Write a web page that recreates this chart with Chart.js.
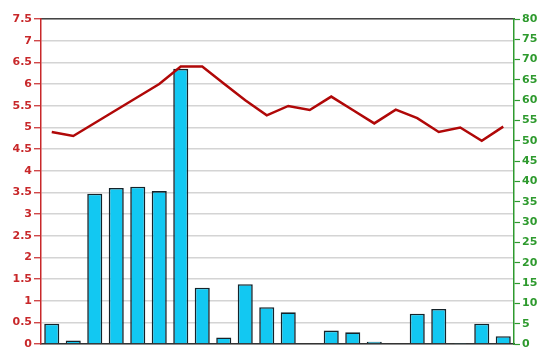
<!DOCTYPE html>
<html>
<head>
<meta charset="utf-8">
<script src="https://cdn.jsdelivr.net/npm/chart.js@4"></script>
<style>
html,body{margin:0;padding:0;background:#fff;}
#wrap{width:550px;height:364px;}
</style>
</head>
<body>
<div id="wrap"><canvas id="c" width="550" height="364"></canvas></div>
<script>
const categories = ['1','2','3','4','5','6','7','8','9','10','11','12','13','14','15','16','17','18','19','20','21','22'];
const barValues = [0.47,0.08,3.47,3.6,3.63,3.53,6.35,1.3,0.15,1.38,0.85,0.73,0.02,0.31,0.27,0.05,0,0.7,0.81,0.01,0.47,0.18];
const lineValues = [52.2,51.2,54.4,57.6,60.8,64.0,68.3,68.3,64.1,60.0,56.3,58.6,57.6,60.9,57.6,54.3,57.7,55.6,52.2,53.3,50.0,53.5];
const leftTicks = {min:0, max:7.5, step:0.5};
const rightTicks = {min:0, max:80, step:5};

const tickFont = {family:'DejaVu Sans', size:11, weight:'bold'};
const fmt = v => String(Math.round(v*10)/10);
new Chart(document.getElementById('c'), {
  data: {
    labels: categories,
    datasets: [
      {type:'line', data: lineValues, yAxisID:'y1', borderColor:'#b00808', borderWidth:2.5, pointRadius:0, tension:0, fill:false, order:0},
      {type:'bar', data: barValues, yAxisID:'y', backgroundColor:'#12c8f2', borderColor:'#15232a', borderWidth:1.6, categoryPercentage:1, barPercentage:0.7, order:1}
    ]
  },
  options: {
    responsive:false, animation:false,
    layout:{padding:{top:19,bottom:0,left:0,right:0}},
    plugins:{legend:{display:false}, tooltip:{enabled:false}},
    scales:{
      x:{type:'category', position:'bottom', grid:{display:false}, ticks:{display:false},
         border:{display:true,color:'#333',width:1.5},
         afterFit(s){s.height=20;}},
      x2:{type:'category', position:'top', labels:categories, grid:{display:false}, ticks:{display:false},
         border:{display:true,color:'#444',width:1.5},
         afterFit(s){s.height=0;}},
      y:{position:'left', min:leftTicks.min, max:leftTicks.max,
         ticks:{stepSize:leftTicks.step, color:'#c8282a', font:tickFont, padding:2, callback:fmt},
         grid:{color:'#d4d4d4', lineWidth:1.5, tickColor:'#c8282a', tickLength:7, tickWidth:1.2},
         border:{display:true,color:'#c8282a',width:1.5},
         afterFit(s){s.width=41;}},
      y1:{position:'right', min:rightTicks.min, max:rightTicks.max,
         ticks:{stepSize:rightTicks.step, color:'#2e9a2e', font:tickFont, padding:2, callback:fmt},
         grid:{drawOnChartArea:false, tickColor:'#2e9a2e', tickLength:6, tickWidth:1.2},
         border:{display:true,color:'#2e9a2e',width:1.5},
         afterFit(s){s.width=36;}}
    }
  }
});
</script>
</body>
</html>
